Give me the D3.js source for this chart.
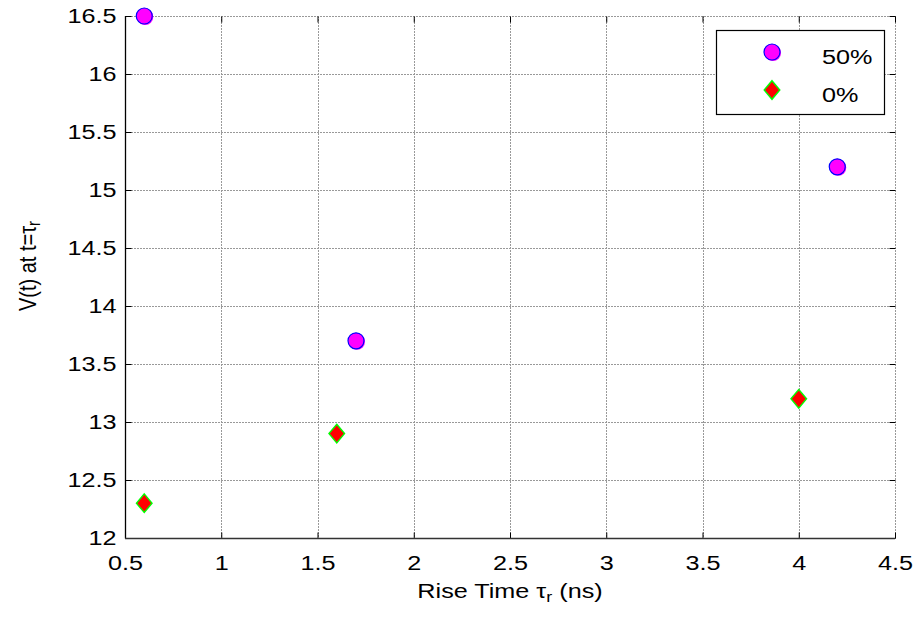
<!DOCTYPE html>
<html>
<head>
<meta charset="utf-8">
<script src="https://cdn.jsdelivr.net/npm/d3@7"></script>
<style>
  body { margin: 0; background: #fff; }
  text { font-family: "Liberation Sans", Arial, sans-serif; fill: #000; }
</style>
</head>
<body>
<div id="chart"></div>
<script>
// data
var seriesNames = ["50%", "0%"];
var riseTime50 = [0.6, 1.7, 4.2];
var volt50 = [16.5, 13.7, 15.2];
var riseTime0 = [0.6, 1.6, 4.0];
var volt0 = [12.3, 12.9, 13.2];
var xTicks = [0.5, 1, 1.5, 2, 2.5, 3, 3.5, 4, 4.5];
var yTicks = [12, 12.5, 13, 13.5, 14, 14.5, 15, 15.5, 16, 16.5];

var width = 916, height = 618;
var margin = {left: 125, right: 20, top: 16, bottom: 80};
var fontSize = 21, stretch = 1.2;   // the reference text is a bit wide

var svg = d3.select("#chart").append("svg")
    .attr("width", width)
    .attr("height", height);

var x = d3.scaleLinear().domain([0.5, 4.5]).range([margin.left, width - margin.right - 1]);
var y = d3.scaleLinear().domain([12, 16.5]).range([height - margin.bottom, margin.top]);

var x0 = x.range()[0], x1 = x.range()[1];
var y0 = y.range()[0], y1 = y.range()[1];

// grid
var grid = svg.append("g").attr("class", "grid");
grid.selectAll("line.gx")
    .data(xTicks)
    .enter().append("line")
    .attr("x1", function(d) { return Math.round(x(d)) + 0.5; })
    .attr("x2", function(d) { return Math.round(x(d)) + 0.5; })
    .attr("y1", y1).attr("y2", y0)
    .style("stroke", "#999")
    .style("stroke-dasharray", "2,1");
grid.selectAll("line.gy")
    .data(yTicks)
    .enter().append("line")
    .attr("y1", function(d) { return Math.round(y(d)) + 0.5; })
    .attr("y2", function(d) { return Math.round(y(d)) + 0.5; })
    .attr("x1", x0).attr("x2", x1)
    .style("stroke", "#999")
    .style("stroke-dasharray", "2,1");

// axes (ticks inward, on all four sides)
var tickLen = 6;
var xAxis = d3.axisBottom(x).tickValues(xTicks).tickSize(-tickLen).tickPadding(17)
    .tickFormat(d3.format("~g"));
var yAxis = d3.axisLeft(y).tickValues(yTicks).tickSize(-tickLen).tickPadding(9)
    .tickFormat(d3.format("~g"));

var gx = svg.append("g")
    .attr("transform", "translate(0," + (Math.round(y0) + 0.5) + ")")
    .call(xAxis);
var gy = svg.append("g")
    .attr("transform", "translate(" + (Math.round(x0) + 0.5) + ",0)")
    .call(yAxis);
svg.append("g")
    .attr("transform", "translate(0," + (Math.round(y1) + 0.5) + ")")
    .call(d3.axisTop(x).tickValues(xTicks).tickSize(-tickLen).tickFormat(""))
    .select(".domain").remove();
svg.append("g")
    .attr("transform", "translate(" + (Math.round(x1) + 0.5) + ",0)")
    .call(d3.axisRight(y).tickValues(yTicks).tickSize(-tickLen).tickFormat(""))
    .select(".domain").remove();

svg.selectAll(".tick line").style("stroke", "#000");
[gx, gy].forEach(function(g) {
    g.select(".domain").remove();
    g.selectAll(".tick text")
        .style("font-size", fontSize + "px")
        .style("font-family", "Liberation Sans, Arial, sans-serif")
        .attr("transform", "scale(" + stretch + ",1)");
});
gy.selectAll(".tick text").attr("x", -9 / stretch);

svg.append("line")
    .attr("x1", Math.round(x0) + 0.5).attr("x2", Math.round(x0) + 0.5)
    .attr("y1", y1).attr("y2", y0 + 0.5)
    .style("stroke", "#000").style("stroke-width", 1.3);
svg.append("line")
    .attr("x1", x0).attr("x2", x1)
    .attr("y1", Math.round(y0) + 0.5).attr("y2", Math.round(y0) + 0.5)
    .style("stroke", "#333").style("stroke-width", 1.3);

// axis titles
var xt = svg.append("text")
    .attr("transform", "translate(" + ((x0 + x1) / 2) + ",598) scale(" + stretch + ",1)")
    .attr("text-anchor", "middle")
    .style("font-size", fontSize + "px");
xt.append("tspan").text("Rise Time \u03c4");
xt.append("tspan").attr("baseline-shift", "-25%").style("font-size", "15px").text("r");
xt.append("tspan").text(" (ns)");

var yt = svg.append("text")
    .attr("transform", "translate(36,266) scale(" + stretch + ",1) rotate(-90)")
    .attr("text-anchor", "middle")
    .style("font-size", "20px");
yt.append("tspan").text("V(t) at t=\u03c4");
yt.append("tspan").attr("baseline-shift", "-25%").style("font-size", "15px").text("r");

// markers
function drawCircle(g, cx, cy) {
    g.append("circle").attr("cx", cx + 1).attr("cy", cy + 1).attr("r", 8).style("fill", "#ff00ff");
    g.append("circle").attr("cx", cx).attr("cy", cy).attr("r", 8)
        .style("fill", "#ff00ff").style("stroke", "#0000ff").style("stroke-width", 1.2);
}
var diamond = "M0,-9.3L7.8,0L0,9.3L-7.8,0Z";
function drawDiamond(g, cx, cy) {
    g.append("path").attr("d", diamond)
        .attr("transform", "translate(" + cx + "," + cy + ")")
        .style("fill", "#ff0000").style("stroke", "#00ff00").style("stroke-width", 1.4);
}

var marks = svg.append("g");
riseTime50.forEach(function(d, i) { drawCircle(marks, x(d), y(volt50[i])); });
riseTime0.forEach(function(d, i) { drawDiamond(marks, x(d), y(volt0[i])); });

// legend
var lg = svg.append("g");
lg.append("rect")
    .attr("x", 716.5).attr("y", 30.5).attr("width", 168).attr("height", 84)
    .style("fill", "#fff").style("stroke", "#000").style("stroke-width", 1.2);
drawCircle(lg, 772, 52);
drawDiamond(lg, 772, 90);
lg.selectAll("text.lbl")
    .data(seriesNames)
    .enter().append("text")
    .attr("transform", function(d, i) { return "translate(822," + (64 + i * 38) + ") scale(" + stretch + ",1)"; })
    .style("font-size", fontSize + "px")
    .text(function(d) { return d; });
</script>
</body>
</html>
